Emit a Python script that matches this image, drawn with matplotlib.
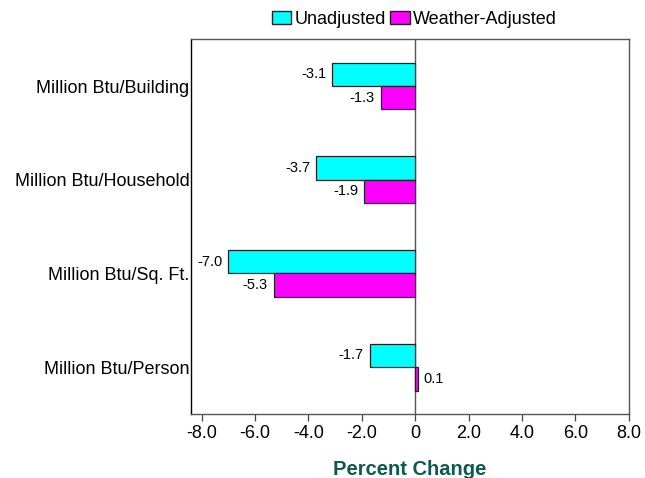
import numpy as np
import matplotlib
matplotlib.use('Agg')
import matplotlib.pyplot as plt
from matplotlib.patches import Patch

plt.rcParams['font.family'] = ['Liberation Sans', 'DejaVu Sans']

# Data, bottom to top
categories = ['Million Btu/Person', 'Million Btu/Sq. Ft.',
              'Million Btu/Household', 'Million Btu/Building']
unadjusted = [-1.7, -7.0, -3.7, -3.1]
weather_adjusted = [0.1, -5.3, -1.9, -1.3]
xticks = [-8, -6, -4, -2, 0, 2, 4, 6, 8]

fig = plt.figure(figsize=(6.45, 4.78), dpi=100)
ax = fig.add_axes([0.296, 0.134, 0.679, 0.784])

y = np.arange(len(categories))
h = 0.25
ax.barh(y + h / 2, unadjusted, height=h, color='#00ffff', edgecolor='#222222', linewidth=0.9)
ax.barh(y - h / 2, weather_adjusted, height=h, color='#ff00ff', edgecolor='#222222', linewidth=0.9)

# value labels
for yi, v in zip(y + h / 2, unadjusted):
    ax.text(v - 0.22 if v < 0 else v + 0.22, yi, f'{v:.1f}', ha='right' if v < 0 else 'left',
            va='center', fontsize=10.5)
for yi, v in zip(y - h / 2, weather_adjusted):
    ax.text(v - 0.22 if v < 0 else v + 0.22, yi, f'{v:.1f}', ha='right' if v < 0 else 'left',
            va='center', fontsize=10.5)

ax.axvline(0, color='#555555', linewidth=1.0, zorder=0)

ax.set_xlim(-8.4, 8.0)
ax.set_ylim(-0.5, 3.5)
ax.set_xticks(xticks)
ax.set_xticklabels(['0' if t == 0 else f'{t:.1f}' for t in xticks], fontsize=13)
ax.set_yticks(y)
ax.set_yticklabels(categories, fontsize=13)
ax.tick_params(axis='y', length=0, pad=1)
ax.tick_params(axis='x', length=5, width=0.9, color='#444444', pad=3)

for side in ['top', 'right', 'bottom']:
    ax.spines[side].set_color('#555555')
    ax.spines[side].set_linewidth(1.0)
ax.spines['left'].set_color('black')
ax.spines['left'].set_linewidth(1.0)

ax.set_xlabel('Percent Change', fontsize=14.5, fontweight='bold', color='#0d5a4f', labelpad=13)

handles = [Patch(facecolor='#00ffff', edgecolor='#222222', label='Unadjusted'),
           Patch(facecolor='#ff00ff', edgecolor='#222222', label='Weather-Adjusted')]
fig.legend(handles=handles, loc='center', bbox_to_anchor=(0.642, 0.96), ncol=2,
           frameon=False, fontsize=13, handlelength=1.1, handleheight=0.8,
           handletextpad=0.15, columnspacing=0.25, borderaxespad=0)

fig.savefig('out.png', dpi=100)
